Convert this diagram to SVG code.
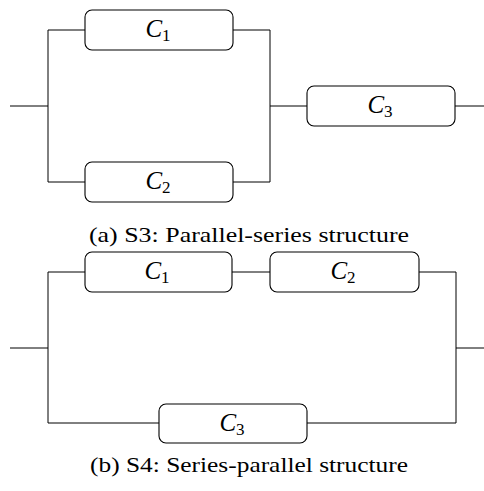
<svg xmlns="http://www.w3.org/2000/svg" width="484" height="491" viewBox="0 0 484 491">
<style>
.box{fill:#fff;stroke:#000;stroke-width:1.1}
.wire{fill:none;stroke:#000;stroke-width:1}
.lbl{font-family:"Liberation Serif",serif;font-size:25px;text-anchor:middle;fill:#000}
.lbl .c{font-style:italic}
.lbl .s{font-size:17px;font-style:normal}
.cap{font-family:"Liberation Serif",serif;font-size:22px;text-anchor:middle;fill:#000}
</style>
<rect width="484" height="491" fill="#fff"/>
<g id="connectors">
<path class="wire" d="M10,106H48M48,30V182M48,30H85M48,182H85M233,30H270M233,182H270M270,30V182M270,106H307M455,106H484"/>
<path class="wire" d="M10,348H48M48,272V423M48,272H85M232,272H270M419,272H456M456,272V423M48,423H159M307,423H456M456,348H484"/>
</g>
<g id="a-C1"><rect class="box" x="85" y="10" width="148" height="40" rx="7"/><text class="lbl" x="158" y="37"><tspan class="c">C</tspan><tspan class="s" dy="4">1</tspan></text></g>
<g id="a-C2"><rect class="box" x="85" y="162" width="148" height="40" rx="7"/><text class="lbl" x="158" y="189"><tspan class="c">C</tspan><tspan class="s" dy="4">2</tspan></text></g>
<g id="a-C3"><rect class="box" x="307" y="86" width="148" height="40" rx="7"/><text class="lbl" x="380" y="113"><tspan class="c">C</tspan><tspan class="s" dy="4">3</tspan></text></g>
<text class="cap" x="249" y="242" textLength="320" lengthAdjust="spacingAndGlyphs">(a) S3: Parallel-series structure</text>
<g id="b-C1"><rect class="box" x="85" y="252" width="147" height="40" rx="7"/><text class="lbl" x="157" y="279"><tspan class="c">C</tspan><tspan class="s" dy="4">1</tspan></text></g>
<g id="b-C2"><rect class="box" x="270" y="252" width="149" height="40" rx="7"/><text class="lbl" x="343" y="279"><tspan class="c">C</tspan><tspan class="s" dy="4">2</tspan></text></g>
<g id="b-C3"><rect class="box" x="159" y="404" width="148" height="39" rx="7"/><text class="lbl" x="232" y="431"><tspan class="c">C</tspan><tspan class="s" dy="4">3</tspan></text></g>
<text class="cap" x="249" y="472" textLength="318" lengthAdjust="spacingAndGlyphs">(b) S4: Series-parallel structure</text>
</svg>
